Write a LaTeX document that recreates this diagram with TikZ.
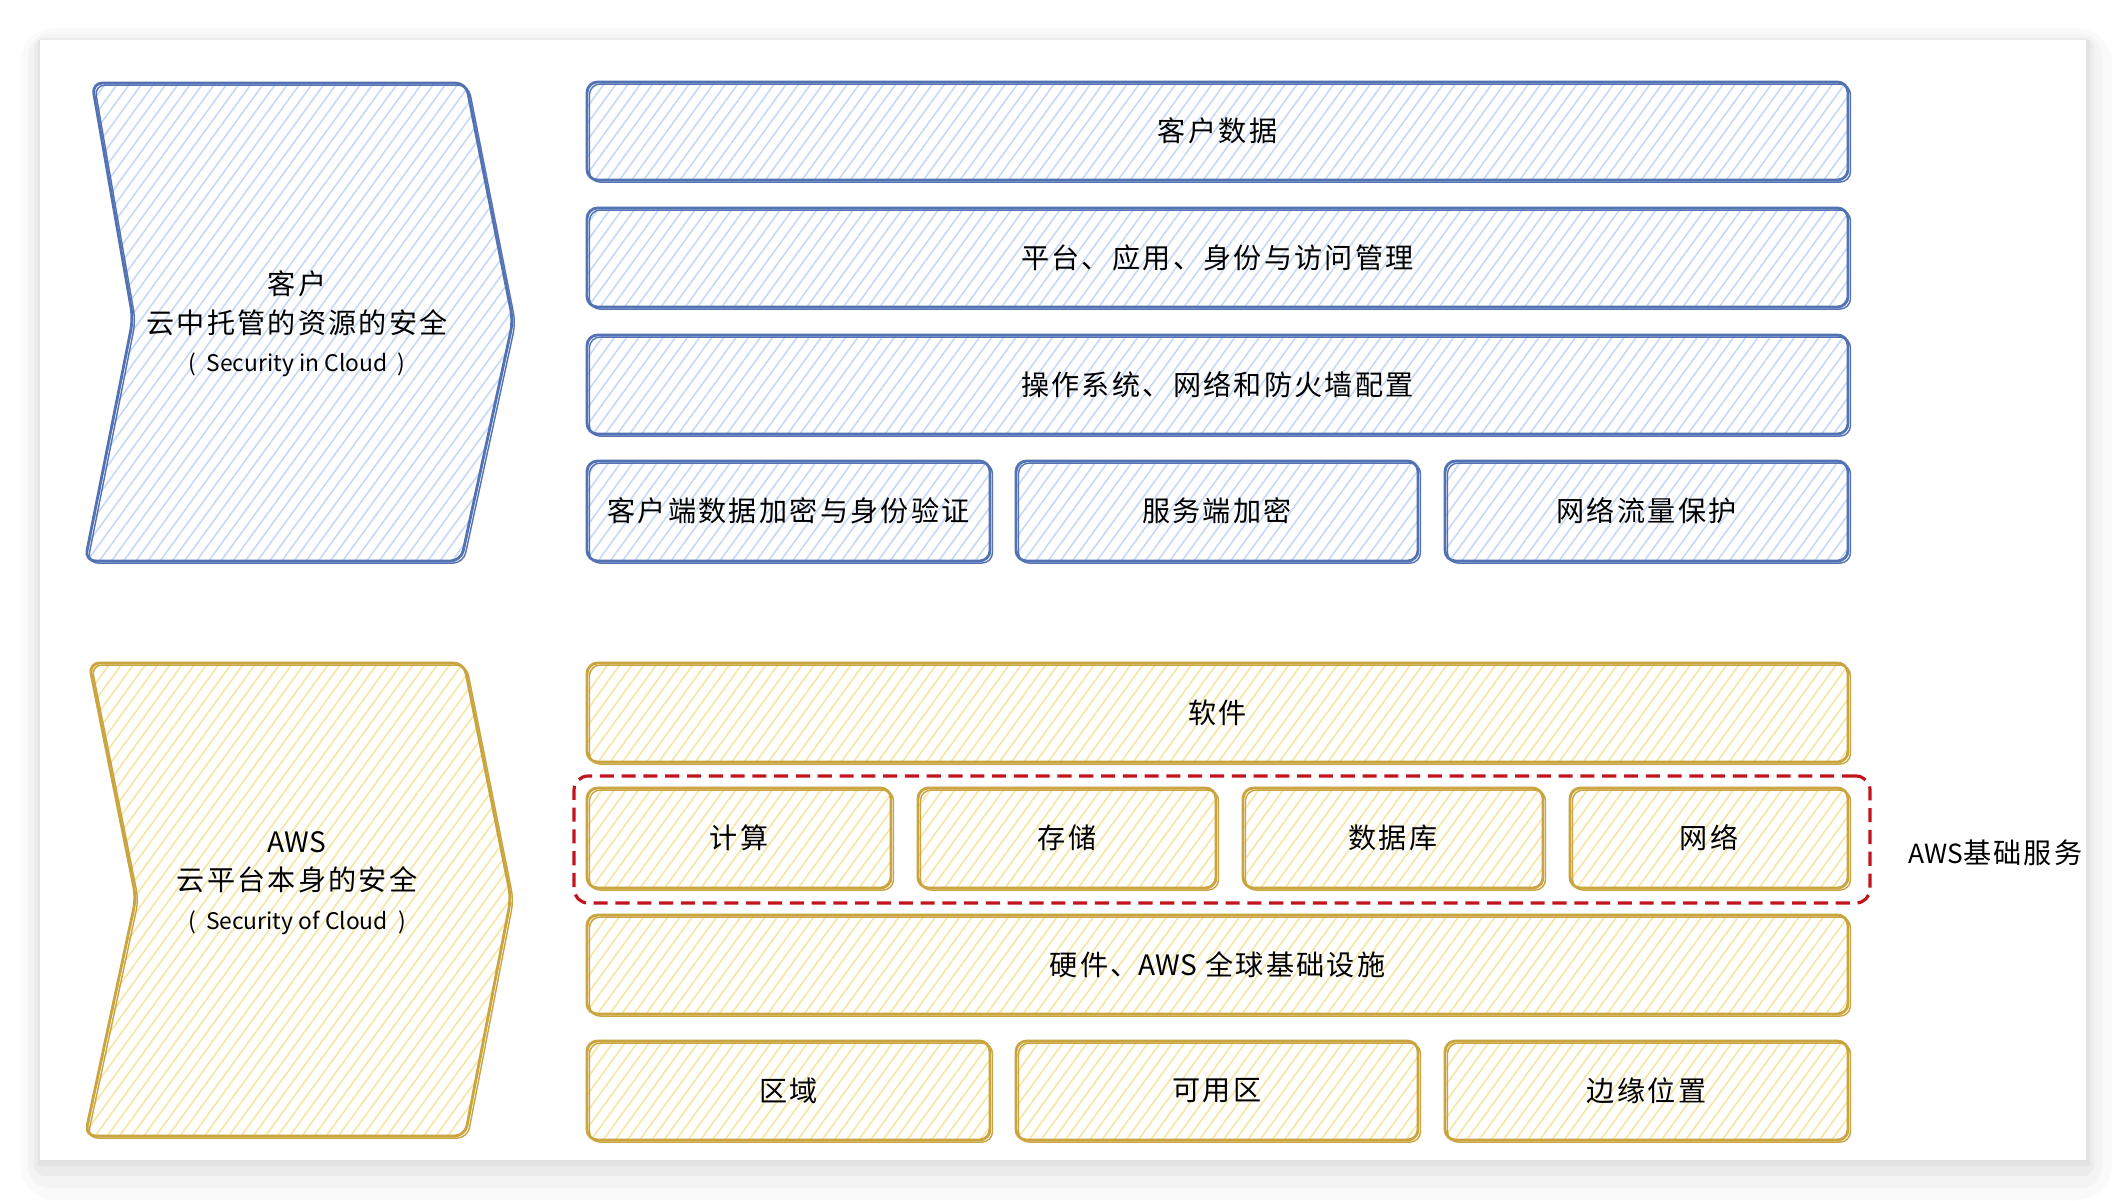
\documentclass[tikz,border=0pt]{standalone}
\usepackage{fontspec}
\newfontfamily\cjk[LetterSpace=8]{Noto Sans CJK SC}
\newfontfamily\lat{Noto Sans CJK SC}
\usetikzlibrary{patterns.meta,positioning}
\definecolor{custblue}{HTML}{5272B4}
\definecolor{custhatch}{HTML}{C5D9F6}
\definecolor{awsgold}{HTML}{C9A43F}
\definecolor{awshatch}{HTML}{F6E5A3}
\definecolor{coredash}{HTML}{C3141E}
\tikzset{
  lbl/.style={font=\cjk\fontsize{8}{11}\selectfont, align=center, text=black},
  custbox/.style={draw=custblue, line width=0.8pt, rounded corners=3pt, inner sep=0pt, outer sep=0pt,
    font=\cjk\fontsize{8}{11}\selectfont,
    pattern={Lines[angle=54,distance=2.8pt,line width=0.45pt]}, pattern color=custhatch,
    postaction={draw=custblue, line width=0.4pt, transform canvas={xshift=0.7pt,yshift=-0.6pt}}},
  awsbox/.style={draw=awsgold, line width=0.8pt, rounded corners=3pt, inner sep=0pt, outer sep=0pt,
    font=\cjk\fontsize{8}{11}\selectfont,
    pattern={Lines[angle=54,distance=2.8pt,line width=0.45pt]}, pattern color=awshatch,
    postaction={draw=awsgold, line width=0.4pt, transform canvas={xshift=0.7pt,yshift=-0.6pt}}},
  core/.style={draw=coredash, line width=0.9pt, dash pattern=on 4pt off 2.2pt, rounded corners=4pt,
    inner sep=0pt, outer sep=0pt, minimum width=129.6mm, minimum height=12.7mm}
}
\begin{document}
\begin{tikzpicture}[x=0.1mm,y=-0.1mm]
  \useasboundingbox (0,0) rectangle (2126,1200);
  % card and its shadow
  \fill[white] (0,0) rectangle (2126,1200);
  \fill[black,opacity=.02,rounded corners=10pt] (20,28) rectangle (2112,1200);
  \fill[black,opacity=.025,rounded corners=6pt] (28,34) rectangle (2102,1188);
  \fill[black,opacity=.03,rounded corners=3pt] (34,38) rectangle (2094,1176);
  \fill[black,opacity=.035] (38,40) rectangle (2090,1166);
  \fill[white] (40,40) rectangle (2086,1160);

  % customer side
  \draw[custbox] (92,83) -- (466,83) -- (513,321) -- (461,561) -- (85,561) -- (133,319) -- cycle;
  \node[lbl] (custside) at (297,324) {客户\\云中托管的资源的安全\\{\lat\fontsize{6.5}{11}\selectfont (\ \ Security in Cloud\ \ )}};
  \node[custbox, minimum width=126.1mm, minimum height=9.8mm] (custdata) at (1217.5,131) {客户数据};
  \node[custbox, minimum width=126.1mm, minimum height=9.9mm] (platform) at (1217.5,257.5) {平台、应用、身份与访问管理};
  \node[custbox, minimum width=126.1mm, minimum height=9.9mm] (osnet) at (1217.5,384.5) {操作系统、网络和防火墙配置};
  \node[custbox, minimum width=40.3mm, minimum height=10mm] (clientenc) at (788.5,511) {客户端数据加密与身份验证};
  \node[custbox, minimum width=40.2mm, minimum height=10mm] (serverenc) at (1217,511) {服务端加密};
  \node[custbox, minimum width=40.3mm, minimum height=10mm] (traffic) at (1646.5,511) {网络流量保护};

  % aws side
  \draw[awsbox] (89,663) -- (464,663) -- (511,898) -- (465,1136) -- (85,1136) -- (136,898) -- cycle;
  \node[lbl] (awsside) at (297,883) {{\lat AWS}\\云平台本身的安全\\{\lat\fontsize{6.5}{11}\selectfont (\ \ Security of Cloud\ \ )}};
  \node[awsbox, minimum width=126.1mm, minimum height=9.9mm] (software) at (1217.5,712.5) {软件};
  \node[awsbox, minimum width=30.4mm, minimum height=10mm] (compute) at (739,838) {计算};
  \node[awsbox, minimum width=29.8mm, minimum height=10mm] (storage) at (1067,838) {存储};
  \node[awsbox, minimum width=30mm, minimum height=10mm] (database) at (1393,838) {数据库};
  \node[awsbox, minimum width=27.8mm, minimum height=10mm] (network) at (1709,838) {网络};
  \node[awsbox, minimum width=126.1mm, minimum height=9.9mm] (hardware) at (1217.5,964.5) {硬件、{\lat AWS} 全球基础设施};
  \node[awsbox, minimum width=40.3mm, minimum height=9.9mm] (region) at (788.5,1090.5) {区域};
  \node[awsbox, minimum width=40.2mm, minimum height=9.9mm] (zone) at (1217,1090.5) {可用区};
  \node[awsbox, minimum width=40.3mm, minimum height=9.9mm] (edge) at (1646.5,1090.5) {边缘位置};

  \node[core] (core) at (1222,839.5) {};
  \node[lbl, right=2.6mm of core, yshift=-1.3mm] (corelbl) {{\lat\fontsize{7.5}{11}\selectfont AWS}基础服务};
\end{tikzpicture}
\end{document}
